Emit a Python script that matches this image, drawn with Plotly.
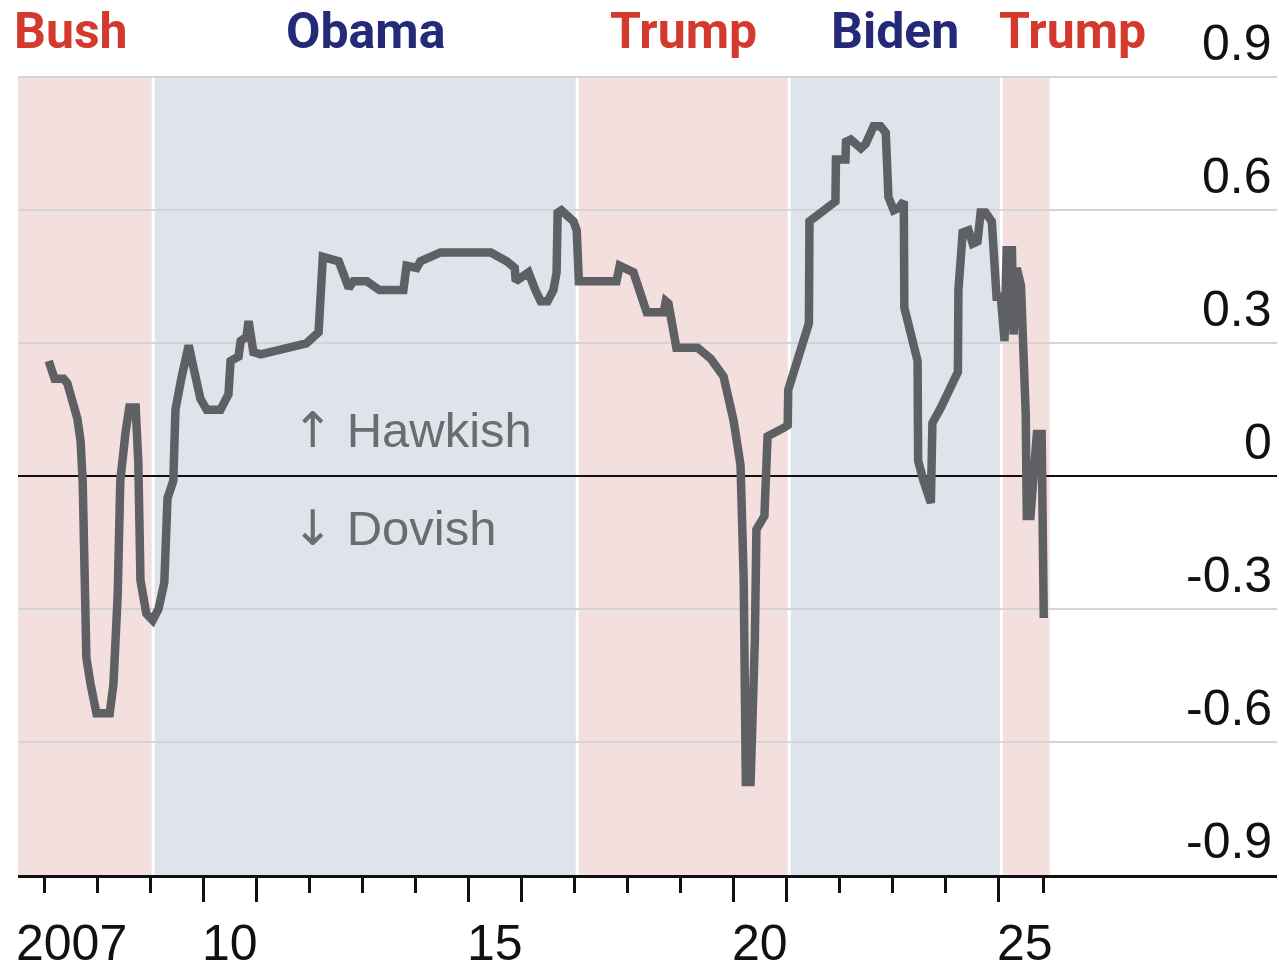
import plotly.graph_objects as go

# Monthly-ish readings of the policy-stance index (decimal years)
dates = [
    2007.08, 2007.19, 2007.36, 2007.43, 2007.62, 2007.68, 2007.72, 2007.75, 2007.79, 2007.87,
    2007.98, 2008.23, 2008.30, 2008.38, 2008.43, 2008.53, 2008.60, 2008.72, 2008.77, 2008.81,
    2008.92, 2009.04, 2009.15, 2009.26, 2009.32, 2009.43, 2009.47, 2009.58, 2009.72, 2009.83,
    2009.94, 2010.06, 2010.32, 2010.47, 2010.51, 2010.66, 2010.70, 2010.81, 2010.85, 2010.94,
    2011.08, 2011.94, 2012.17, 2012.25, 2012.55, 2012.74, 2012.83, 2013.08, 2013.32, 2013.77,
    2013.83, 2014.02, 2014.09, 2014.47, 2015.42, 2015.72, 2015.87, 2015.89, 2016.13, 2016.26,
    2016.36, 2016.49, 2016.60, 2016.66, 2016.68, 2016.75, 2016.98, 2017.04, 2017.08, 2017.79,
    2017.85, 2018.11, 2018.36, 2018.68, 2018.72, 2018.77, 2018.92, 2019.32, 2019.57, 2019.81,
    2020.00, 2020.13, 2020.19, 2020.23, 2020.32, 2020.40, 2020.43, 2020.58, 2020.64, 2020.96,
    2021.02, 2021.03, 2021.42, 2021.43, 2021.92, 2021.93, 2022.11, 2022.12, 2022.21, 2022.40,
    2022.49, 2022.64, 2022.77, 2022.87, 2022.91, 2022.92, 2023.02, 2023.11, 2023.21, 2023.22,
    2023.47, 2023.48, 2023.58, 2023.72, 2023.75, 2023.91, 2024.23, 2024.24, 2024.32, 2024.43,
    2024.51, 2024.60, 2024.66, 2024.75, 2024.87, 2024.96, 2025.04, 2025.11, 2025.15, 2025.25,
    2025.28, 2025.34, 2025.42, 2025.51, 2025.53, 2025.60, 2025.72, 2025.81, 2025.85,
]
values = [
    0.26, 0.22, 0.22, 0.21, 0.13, 0.08, -0.01, -0.21, -0.41, -0.47,
    -0.535, -0.535, -0.47, -0.27, -0.01, 0.10, 0.155, 0.155, 0.03, -0.235,
    -0.31, -0.325, -0.30, -0.24, -0.05, -0.01, 0.15, 0.22, 0.295, 0.235,
    0.175, 0.15, 0.15, 0.185, 0.26, 0.27, 0.305, 0.315, 0.35, 0.28,
    0.275, 0.30, 0.325, 0.495, 0.485, 0.425, 0.44, 0.44, 0.42, 0.42,
    0.475, 0.47, 0.485, 0.505, 0.505, 0.485, 0.47, 0.44, 0.46, 0.42,
    0.395, 0.395, 0.42, 0.46, 0.595, 0.60, 0.575, 0.555, 0.44, 0.44,
    0.475, 0.46, 0.37, 0.37, 0.395, 0.39, 0.29, 0.29, 0.265, 0.225,
    0.125, 0.025, -0.235, -0.69, -0.69, -0.37, -0.12, -0.09, 0.09, 0.11,
    0.115, 0.195, 0.345, 0.575, 0.62, 0.715, 0.715, 0.755, 0.76, 0.74,
    0.75, 0.79, 0.79, 0.775, 0.70, 0.63, 0.60, 0.605, 0.62, 0.38,
    0.26, 0.035, -0.01, -0.06, 0.12, 0.155, 0.235, 0.42, 0.55, 0.555,
    0.525, 0.53, 0.595, 0.595, 0.575, 0.405, 0.405, 0.305, 0.51, 0.51,
    0.32, 0.47, 0.43, 0.14, -0.09, -0.09, 0.095, 0.095, -0.32,
]

# Presidential terms (inauguration dates) and who held office
term_starts = [2006.5, 2009.05, 2017.05, 2021.05, 2025.05]
term_end = 2025.96
presidents = ["Bush", "Obama", "Trump", "Biden", "Trump"]
parties = ["R", "D", "R", "D", "R"]

# Axis ticks and labels
y_ticks = [0.9, 0.6, 0.3, 0, -0.3, -0.6, -0.9]
y_labels = ["0.9", "0.6", "0.3", "0", "-0.3", "-0.6", "-0.9"]
year_ticks = list(range(2007, 2026))
long_ticks = [2010, 2011, 2015, 2016, 2020, 2021, 2025]
x_label_years = [2007, 2010, 2015, 2020, 2025]
x_labels = ["2007", "10", "15", "20", "25"]

X_MIN, X_MAX = 2006.5, 2030.25
Y_MIN, Y_MAX = -0.9, 0.91

SHADE = {"R": "#f3dfde", "D": "#dfe3ec"}
HEAD = {"R": "#d4392d", "D": "#252a78"}
LINE = "#5e6064"
NUM_FONT = "Liberation Sans"
HEAD_FONT = "Roboto"

fig = go.Figure()

fig.add_trace(go.Scatter(
    x=dates, y=values, mode="lines",
    line=dict(color=LINE, width=8.5),
    hoverinfo="skip", showlegend=False,
))

shapes = []
annotations = []
ends = term_starts[1:] + [term_end]
for i, (start, end, name, party) in enumerate(zip(term_starts, ends, presidents, parties)):
    shapes.append(dict(
        type="rect", xref="x", yref="y", x0=start, x1=end, y0=-0.9, y1=0.9,
        fillcolor=SHADE[party], line=dict(width=0), layer="below",
    ))
    if i > 0:
        shapes.append(dict(
            type="line", xref="x", yref="y", x0=start, x1=start, y0=-0.9, y1=0.9,
            line=dict(color="white", width=3), layer="below",
        ))
    if i == 0:
        hx, anchor, shift = start, "left", -6
    elif i == len(presidents) - 1:
        hx, anchor, shift = start, "left", -4
    else:
        hx, anchor, shift = (start + end) / 2, "center", 0
    annotations.append(dict(
        x=hx, xref="x", y=1, yref="paper", xanchor=anchor, yanchor="bottom",
        xshift=shift, yshift=11, text=f"<b>{name}</b>", showarrow=False,
        font=dict(family=HEAD_FONT, size=50, color=HEAD[party]),
    ))

# Value labels sit just above their gridlines at the right edge
for v, lab in zip(y_ticks, y_labels):
    annotations.append(dict(
        x=1, xref="paper", y=v, yref="y", xanchor="right", yanchor="bottom",
        xshift=-3, yshift=4, text=lab, showarrow=False,
        font=dict(family=NUM_FONT, size=50, color="#111111"),
    ))

# Year labels centred within their year
for yr, lab in zip(x_label_years, x_labels):
    annotations.append(dict(
        x=yr + 0.5, xref="x", y=0, yref="paper", xanchor="center", yanchor="top",
        yshift=-38, text=lab, showarrow=False,
        font=dict(family=NUM_FONT, size=50, color="#111111"),
    ))

# Direction hints
ARROW = "<span style='font-family:DejaVu Sans'>{}</span> {}"
for arrow, word, yv in [("\u2191", "Hawkish", 0.104), ("\u2193", "Dovish", -0.117)]:
    annotations.append(dict(
        x=2011.64, xref="x", y=yv, yref="y", xanchor="left", yanchor="middle",
        text=ARROW.format(arrow, word), showarrow=False,
        font=dict(family=NUM_FONT, size=49, color="#6c6c6c"),
    ))

fig.update_layout(
    width=1279, height=970,
    margin=dict(l=18, r=2, t=73, b=95, pad=0),
    paper_bgcolor="white", plot_bgcolor="white",
    shapes=shapes, annotations=annotations,
    showlegend=False,
    xaxis=dict(
        range=[X_MIN, X_MAX], showgrid=False, zeroline=False,
        showline=True, linecolor="#111111", linewidth=3,
        tickmode="array", tickvals=long_ticks, ticks="outside",
        ticklen=24, tickwidth=3, tickcolor="#111111", showticklabels=False,
        minor=dict(tickmode="array",
                   tickvals=[y for y in year_ticks if y not in long_ticks] + [dates[-1]],
                   ticks="outside", ticklen=15, tickwidth=3, tickcolor="#111111",
                   showgrid=False),
    ),
    yaxis=dict(
        range=[Y_MIN, Y_MAX], showticklabels=False, ticks="",
        tickmode="array", tickvals=[v for v in y_ticks if v not in (0, -0.9)],
        showgrid=True, gridcolor="#d4d4d4", gridwidth=2,
        zeroline=True, zerolinecolor="#111111", zerolinewidth=2,
        showline=False,
    ),
)

fig.write_html("out.html")
